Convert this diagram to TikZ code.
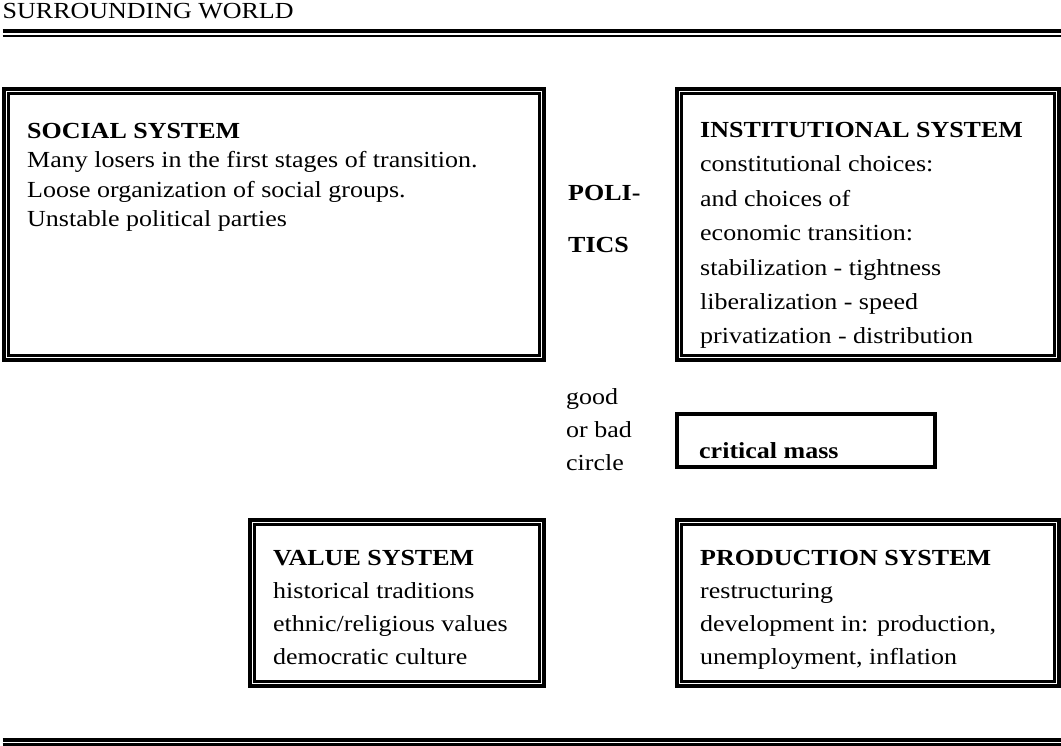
\documentclass[tikz,border=0pt]{standalone}
\usepackage{fontspec}
\setmainfont{Liberation Serif}[FakeStretch=1.13]
\usetikzlibrary{fit,calc}
\newcommand\bodyfont{\fontsize{23}{29.3}\selectfont}
\newcommand\widefont{\fontsize{23}{34.4}\selectfont}
\newcommand\midfont{\fontsize{23}{33.2}\selectfont}
\tikzset{
  outerframe/.style={draw, line width=3.8pt, inner sep=0pt, outer sep=0pt},
  innerframe/.style={draw, line width=2.5pt},
  plainframe/.style={draw, line width=4pt, inner sep=0pt},
  txt/.style={anchor=base west, inner sep=0pt, font=\bodyfont},
  rulethick/.style={line width=4pt},
  rulethin/.style={line width=2.3pt},
}
% thin inner line of a thick-thin frame around node #1
% (the node border is the centre of the thick line)
\newcommand\innerline[1]{%
  \draw[innerframe] ($(#1.north west)+(4.4,4.4)$) rectangle ($(#1.south east)+(-4.4,-4.4)$);}
\begin{document}
\begin{tikzpicture}[x=1pt, y=-1pt]
\useasboundingbox (0,0) rectangle (1061,745);

% heading and double rules
\node[txt] (world) at (2.5,18.5) {SURROUNDING WORLD};
\draw[rulethick] (2.5,31.3) -- (1061,31.3);
\draw[rulethin]  (2.5,35.8) -- (1061,35.8);
\draw[rulethick] (2.5,739.9) -- (1061,739.9);
\draw[rulethin]  (2.5,744.4) -- (1061,744.4);

% frames
\node[outerframe, fit={(3.9,88.9) (544.1,360.1)}] (soc) {};
\innerline{soc}
\node[outerframe, fit={(676.9,88.9) (1059.1,360.1)}] (inst) {};
\innerline{inst}
\node[outerframe, fit={(249.9,519.9) (544.1,686.1)}] (val) {};
\innerline{val}
\node[outerframe, fit={(676.9,519.9) (1059.1,686.1)}] (prod) {};
\innerline{prod}
\node[plainframe, fit={(677,414) (935,467)}] (crit) {};

% texts
\node[txt] (soctext) at (27,138.5) {\parbox[t]{500pt}{%
  \textbf{SOCIAL SYSTEM}\\
  Many losers in the first stages of transition.\\
  Loose organization of social groups.\\
  Unstable political parties}};
\node[txt, font=\widefont] (insttext) at (700,137.5) {\parbox[t]{350pt}{%
  \textbf{INSTITUTIONAL SYSTEM}\\
  constitutional choices:\\
  and choices of\\
  economic transition:\\
  stabilization - tightness\\
  liberalization - speed\\
  privatization - distribution}};
\node[txt] (poli) at (568,200) {\textbf{POLI-}};
\node[txt] (tics) at (568,252) {\textbf{TICS}};
\node[txt, font=\midfont] (circ) at (566,404) {\parbox[t]{100pt}{good\\or bad\\circle}};
\node[txt] (crittext) at (699,458) {\textbf{critical mass}};
\node[txt, font=\midfont] (valtext) at (273,565) {\parbox[t]{270pt}{%
  \textbf{VALUE SYSTEM}\\
  historical traditions\\
  ethnic/religious values\\
  democratic culture}};
\node[txt, font=\midfont] (prodtext) at (700,565) {\parbox[t]{350pt}{%
  \textbf{PRODUCTION SYSTEM}\\
  restructuring\\
  development in: production,\\
  unemployment, inflation}};
\end{tikzpicture}
\end{document}
